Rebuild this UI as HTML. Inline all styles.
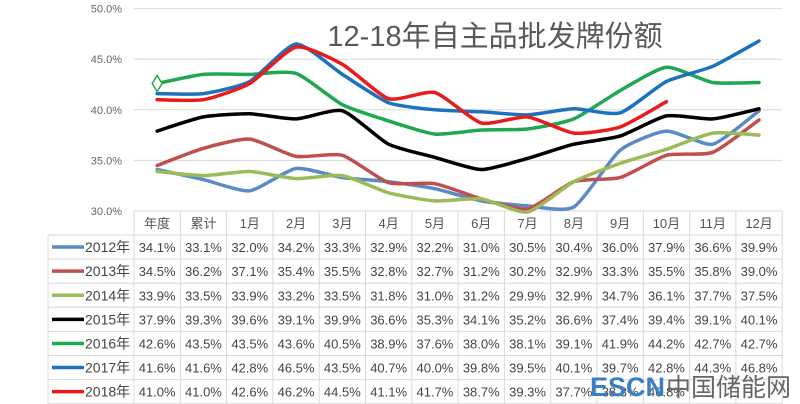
<!DOCTYPE html>
<html><head><meta charset="utf-8"><style>
html,body{margin:0;padding:0;background:#fff;}
svg{display:block;font-family:"Liberation Sans","Noto Sans CJK SC",sans-serif;}
</style></head><body>
<svg id="c" width="800" height="404" viewBox="0 0 800 404"></svg>
<script>
const categories=["年度","累计","1月","2月","3月","4月","5月","6月","7月","8月","9月","10月","11月","12月"];
const seriesNames=["2012年","2013年","2014年","2015年","2016年","2017年","2018年"];
const s2012=[34.1,33.1,32.0,34.2,33.3,32.9,32.2,31.0,30.5,30.4,36.0,37.9,36.6,39.9];
const s2013=[34.5,36.2,37.1,35.4,35.5,32.8,32.7,31.2,30.2,32.9,33.3,35.5,35.8,39.0];
const s2014=[33.9,33.5,33.9,33.2,33.5,31.8,31.0,31.2,29.9,32.9,34.7,36.1,37.7,37.5];
const s2015=[37.9,39.3,39.6,39.1,39.9,36.6,35.3,34.1,35.2,36.6,37.4,39.4,39.1,40.1];
const s2016=[42.6,43.5,43.5,43.6,40.5,38.9,37.6,38.0,38.1,39.1,41.9,44.2,42.7,42.7];
const s2017=[41.6,41.6,42.8,46.5,43.5,40.7,40.0,39.8,39.5,40.1,39.7,42.8,44.3,46.8];
const s2018=[41.0,41.0,42.6,46.2,44.5,41.1,41.7,38.7,39.3,37.7,38.3,40.8];
const yTicks=[30,35,40,45,50];
const seriesColors=["#5b8bc6","#c0504d","#9bbb59","#000000","#1fa84f","#1e72bd","#e81c1c"];
const allSeries=[s2012,s2013,s2014,s2015,s2016,s2017,s2018];

const svg=document.getElementById('c');
const NS="http://www.w3.org/2000/svg";
const X0=134,CW=46.3,Y30=211,PPU=10.12;
const xS=i=>X0+CW*(i+0.5);
const yS=v=>Y30-(v-30)*PPU;
function mk(t,a,parent){const e=document.createElementNS(NS,t);for(const k in a)e.setAttribute(k,a[k]);(parent||svg).appendChild(e);return e;}

yTicks.forEach(v=>{
  const l=mk('line',{x1:X0,x2:782,y1:yS(v),y2:yS(v),stroke:'#d9d9d9','stroke-width':1});
  
  
  const t=mk('text',{x:122,y:yS(v)+4,'text-anchor':'end','font-size':11,fill:'#666'});
  t.textContent=v.toFixed(1)+'%';
  
  
});
const ti=mk('text',{x:495,y:46,'text-anchor':'middle','font-size':29,fill:'#595959'});
ti.textContent='12-18年自主品批发牌份额';



function smooth(pts){
  let d='M'+pts[0][0]+','+pts[0][1];
  const t=0.1;
  for(let i=0;i<pts.length-1;i++){
    const p0=pts[i-1]||pts[i],p1=pts[i],p2=pts[i+1],p3=pts[i+2]||p2;
    const c1=[p1[0]+(p2[0]-p0[0])*t,p1[1]+(p2[1]-p0[1])*t];
    const c2=[p2[0]-(p3[0]-p1[0])*t,p2[1]-(p3[1]-p1[1])*t];
    d+=' C'+c1[0].toFixed(1)+','+c1[1].toFixed(1)+' '+c2[0].toFixed(1)+','+c2[1].toFixed(1)+' '+p2[0].toFixed(1)+','+p2[1].toFixed(1);
  }
  return d;
}
allSeries.forEach((s,k)=>{
  const pts=s.map((v,i)=>[xS(i),yS(v)]);
  const p=mk('path',{d:smooth(pts),fill:'none',stroke:seriesColors[k],'stroke-width':3.5,'stroke-linejoin':'round','stroke-linecap':'round'});
  
  
});
const dx=xS(0),dy=yS(s2016[0]);
const dm=mk('polygon',{points:`${dx-5},${dy} ${dx},${dy-8} ${dx+5},${dy} ${dx},${dy+8}`,fill:'#fff',stroke:'#1fa84f','stroke-width':1.5});



const HT=211,RH=24.1;
const tg=mk('g',{});


for(let c=0;c<=14;c++){mk('line',{x1:X0+CW*c,x2:X0+CW*c,y1:HT,y2:404,stroke:'#d9d9d9'},tg);}
mk('line',{x1:48,x2:48,y1:HT+24,y2:404,stroke:'#d9d9d9'},tg);
for(let r=0;r<=7;r++){const y=HT+24+RH*r;mk('line',{x1:48,x2:782,y1:y,y2:y,stroke:'#d9d9d9'},tg);}
categories.forEach((c,i)=>{
  const t=mk('text',{x:xS(i),y:HT+17,'text-anchor':'middle','font-size':13,fill:'#555'},tg);
  t.textContent=c;
  
  
});
allSeries.forEach((s,k)=>{
  const yc=HT+24+RH*k+RH/2;
  const sw=mk('line',{x1:52,x2:84,y1:yc,y2:yc,stroke:seriesColors[k],'stroke-width':3.5},tg);
  
  
  const lt=mk('text',{x:85,y:yc+5,'font-size':14,fill:'#444'},tg);
  lt.textContent=seriesNames[k];
  
  
  s.forEach((v,i)=>{
    const t=mk('text',{x:xS(i),y:yc+5,'text-anchor':'middle','font-size':13,fill:'#444'},tg);
    t.textContent=v.toFixed(1)+'%';
    
    
  });
});
const w1=mk('text',{x:590,y:396,'font-size':27,'font-weight':'bold',fill:'#3c7fc4'});
w1.textContent='ESCN';


const w2=mk('text',{x:666,y:396,'font-size':25,fill:'#666'});
w2.textContent='中国储能网';


</script>
</body></html>
